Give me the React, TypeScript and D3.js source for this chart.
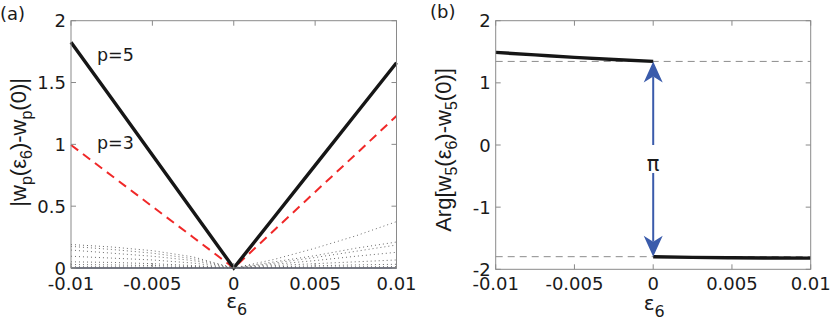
import React from "react";
import * as d3 from "d3";

const xTicks = [-0.01, -0.005, 0, 0.005, 0.01];
const xTickLabels = ["-0.01", "-0.005", "0", "0.005", "0.01"];
const leftYTicks = [0, 0.5, 1, 1.5, 2];
const leftYTickLabels = ["0", "0.5", "1", "1.5", "2"];
const rightYTicks = [-2, -1, 0, 1, 2];
const rightYTickLabels = ["-2", "-1", "0", "1", "2"];

const epsGrid = [-0.01, -0.0075, -0.005, -0.0025, 0, 0.0025, 0.005, 0.0075, 0.01];
const p5Values = [1.826, 1.37, 0.913, 0.457, 0, 0.415, 0.83, 1.245, 1.66];
const p3Values = [0.995, 0.746, 0.497, 0.249, 0, 0.3075, 0.615, 0.92, 1.23];
const dotted1 = [0.19, 0.17, 0.14, 0.09, 0, 0.05, 0.1, 0.16, 0.21];
const dotted2 = [0.175, 0.15, 0.12, 0.075, 0, 0.07, 0.16, 0.26, 0.375];
const dotted3 = [0.145, 0.12, 0.095, 0.06, 0, 0.04, 0.085, 0.135, 0.186];
const dotted4 = [0.095, 0.08, 0.065, 0.04, 0, 0.03, 0.06, 0.095, 0.127];
const dotted5 = [0.05, 0.045, 0.035, 0.02, 0, 0.02, 0.035, 0.05, 0.065];
const dotted6 = [0.028, 0.025, 0.02, 0.012, 0, 0.01, 0.018, 0.025, 0.03];
const dotted7 = [0.01, 0.009, 0.007, 0.004, 0, 0.004, 0.007, 0.009, 0.011];
const dottedSeries = [dotted1, dotted2, dotted3, dotted4, dotted5, dotted6, dotted7];

const argEpsLeft = [-0.01, -0.0075, -0.005, -0.0025, 0];
const argLeftValues = [1.49, 1.45, 1.41, 1.375, 1.345];
const argEpsRight = [0, 0.0025, 0.005, 0.0075, 0.01];
const argRightValues = [-1.797, -1.808, -1.814, -1.818, -1.82];
const refLevels = [1.345, -1.797];

const FONT = "'DejaVu Sans', sans-serif";
const RFONT = "'Liberation Sans', Arial, sans-serif";
const AXIS = "#8a8a8a";
const TXT = "#1a1a1a";
const BLUE = "#3a5bab";

function Ticks({ x, y, yTicks, yLabels, xLabels }: any) {
  const [x0, x1] = x.range();
  const [y0, y1] = y.range();
  const L = 5;
  return (
    <g>
      <rect x={x0} y={y1} width={x1 - x0} height={y0 - y1} fill="none" stroke={AXIS} strokeWidth={1} />
      {xTicks.map((t, i) => (
        <g key={"x" + i}>
          <line x1={x(t)} x2={x(t)} y1={y0} y2={y0 - L} stroke={AXIS} />
          <line x1={x(t)} x2={x(t)} y1={y1} y2={y1 + L} stroke={AXIS} />
          <text x={x(t)} y={290} textAnchor="middle" fontSize={18} fontFamily={FONT} fill={TXT}>
            {xLabels[i]}
          </text>
        </g>
      ))}
      {yTicks.map((t: number, i: number) => (
        <g key={"y" + i}>
          <line x1={x0} x2={x0 + L} y1={y(t)} y2={y(t)} stroke={AXIS} />
          <line x1={x1} x2={x1 - L} y1={y(t)} y2={y(t)} stroke={AXIS} />
          <text x={x0 - 5} y={y(t) + 6.5} textAnchor="end" fontSize={18} fontFamily={FONT} fill={TXT}>
            {yLabels[i]}
          </text>
        </g>
      ))}
    </g>
  );
}

function EpsLabel({ cx, y }: any) {
  return (
    <text x={cx} y={y} textAnchor="middle" fontSize={20} fontFamily={FONT} fill={TXT}>
      ε<tspan fontSize={16} dy={7}>6</tspan>
    </text>
  );
}

export default function App() {
  // Left panel
  const xL = d3.scaleLinear().domain([-0.01, 0.01]).range([71, 396.5]);
  const yL = d3.scaleLinear().domain([0, 2]).range([268, 20.7]);
  const lineL = d3
    .line<number>()
    .x((_, i) => xL(epsGrid[i]))
    .y((d) => yL(d));

  // Right panel
  const xR = d3.scaleLinear().domain([-0.01, 0.01]).range([495.7, 810.7]);
  const yR = d3.scaleLinear().domain([-2, 2]).range([269.3, 20.7]);
  const lineRL = d3
    .line<number>()
    .x((_, i) => xR(argEpsLeft[i]))
    .y((d) => yR(d))
    .curve(d3.curveMonotoneX);
  const lineRR = d3
    .line<number>()
    .x((_, i) => xR(argEpsRight[i]))
    .y((d) => yR(d))
    .curve(d3.curveMonotoneX);

  const ax = xR(0);
  const topTip = yR(refLevels[0]);
  const botTip = yR(refLevels[1]);
  const piY = yR(-0.3);
  const headLen = 21;
  const headHalf = 9.5;
  const notch = 6;

  return (
    <svg width={830} height={321} style={{ position: "absolute", left: 0, top: 0, background: "#fff" }}>
      <rect x={0} y={0} width={830} height={321} fill="#fff" />
      {/* Panel (a) */}
      <text x={0} y={20} fontSize={18} fontFamily={FONT} fill={TXT}>(a)</text>
      <g>
        {dottedSeries.map((s, i) => (
          <path key={i} d={lineL(s) || ""} fill="none" stroke="#6a6a6a" strokeWidth={1} strokeDasharray="1 3" />
        ))}
        <line x1={xL(-0.01)} x2={xL(0.01)} y1={yL(0)} y2={yL(0)} stroke="#2c3550" strokeWidth={1.5} />
        <path d={lineL(p3Values) || ""} fill="none" stroke="#f02828" strokeWidth={2} strokeDasharray="9 6" />
        <path d={lineL(p5Values) || ""} fill="none" stroke="#161616" strokeWidth={3.4} />
      </g>
      <Ticks x={xL} y={yL} yTicks={leftYTicks} yLabels={leftYTickLabels} xLabels={xTickLabels} />
      <text x={97} y={61} fontSize={17.5} fontFamily={FONT} fill={TXT}>p=5</text>
      <text x={97} y={149} fontSize={17.5} fontFamily={FONT} fill={TXT}>p=3</text>
      <EpsLabel cx={xL(0) + 3} y={308} />
      <text
        transform={`translate(26,${(yL(0) + yL(2)) / 2 - 2}) rotate(-90)`}
        textAnchor="middle"
        fontSize={22}
        fontFamily={RFONT}
        fill={TXT}
      >
        |w<tspan fontSize={16} dy={6}>p</tspan>
        <tspan dy={-6}>(ε</tspan>
        <tspan fontSize={16} dy={6}>6</tspan>
        <tspan dy={-6}>)-w</tspan>
        <tspan fontSize={16} dy={6}>p</tspan>
        <tspan dy={-6}>(0)|</tspan>
      </text>

      {/* Panel (b) */}
      <text x={430} y={18} fontSize={18} fontFamily={FONT} fill={TXT}>(b)</text>
      {refLevels.map((v, i) => (
        <line key={i} x1={xR(-0.01)} x2={xR(0.01)} y1={yR(v)} y2={yR(v)} stroke="#8c8c8c" strokeWidth={1} strokeDasharray="7 5" />
      ))}
      <path d={lineRL(argLeftValues) || ""} fill="none" stroke="#161616" strokeWidth={3.4} />
      <path d={lineRR(argRightValues) || ""} fill="none" stroke="#161616" strokeWidth={3.4} />
      {/* arrow */}
      <line x1={ax} x2={ax} y1={topTip + headLen - notch} y2={yR(0)} stroke={BLUE} strokeWidth={2} />
      <line x1={ax} x2={ax} y1={yR(-0.45)} y2={botTip - headLen + notch} stroke={BLUE} strokeWidth={2} />
      <path
        d={`M${ax},${topTip} L${ax + headHalf},${topTip + headLen} L${ax},${topTip + headLen - notch} L${ax - headHalf},${topTip + headLen} Z`}
        fill={BLUE}
      />
      <path
        d={`M${ax},${botTip} L${ax + headHalf},${botTip - headLen} L${ax},${botTip - headLen + notch} L${ax - headHalf},${botTip - headLen} Z`}
        fill={BLUE}
      />
      <text x={ax} y={piY + 7} textAnchor="middle" fontSize={21} fontFamily={FONT} fill={TXT}>π</text>
      <Ticks x={xR} y={yR} yTicks={rightYTicks} yLabels={rightYTickLabels} xLabels={xTickLabels} />
      <EpsLabel cx={xR(0) + 1} y={310} />
      <text
        transform={`translate(451,${(yR(-2) + yR(2)) / 2 + 5}) rotate(-90)`}
        textAnchor="middle"
        fontSize={22}
        fontFamily={RFONT}
        fill={TXT}
      >
        Arg[w<tspan fontSize={16} dy={6}>5</tspan>
        <tspan dy={-6}>(ε</tspan>
        <tspan fontSize={16} dy={6}>6</tspan>
        <tspan dy={-6}>)-w</tspan>
        <tspan fontSize={16} dy={6}>5</tspan>
        <tspan dy={-6}>(0)]</tspan>
      </text>
    </svg>
  );
}
